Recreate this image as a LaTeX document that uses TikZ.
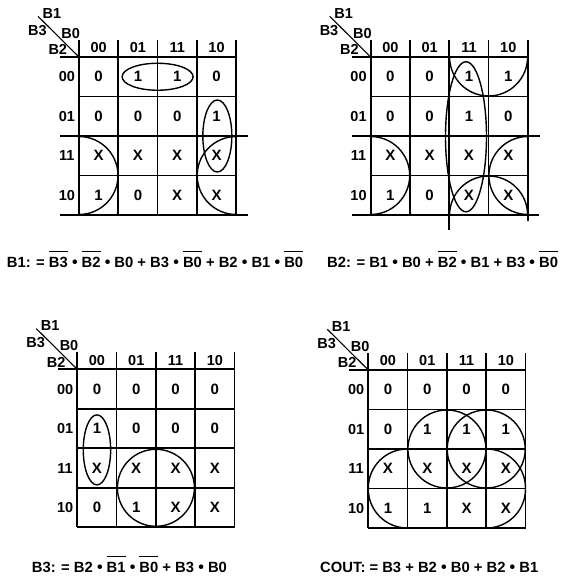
\documentclass[tikz,border=0pt]{standalone}
\usepackage{fontspec}
\setmainfont{Liberation Sans}
\newcommand\ovl[1]{\vbox{\hrule height 1.3pt\kern 4.5pt\hbox{#1}}}
\newcommand\bul{{\fontsize{16}{16}\selectfont\raisebox{-0.4pt}{\textbullet}}}
\tikzset{
  gridline/.style={line width=1.7pt},
  diagline/.style={line width=1.1pt},
  loopline/.style={line width=1.4pt},
  cellval/.style={font=\bfseries\fontsize{15}{17}\selectfont, inner sep=0pt},
  hdr/.style={font=\bfseries\fontsize{14.5}{16}\selectfont, inner sep=0pt},
  eqn/.style={font=\bfseries\fontsize{14.8}{17}\selectfont, inner sep=0pt, anchor=base west},
}
\newcommand\kmap[2]{%
  \draw[gridline] (-0.48,0) -- (4,0);
  \foreach \i in {1,2,3,4} \draw[gridline] (0,-\i) -- (4,-\i);
  \foreach \j in {0,...,4} \draw[gridline] (\j,0.43) -- (\j,-4);
  \coordinate (#1-corner) at (0,0);
  \coordinate (#1-diagend) at (-1.043,1.03);
  \draw[diagline] (#1-corner) -- (#1-diagend);
  \node[hdr] (#1-b1) at (-0.69,1.11) {B1};
  \node[hdr] (#1-b3) at (-1.06,0.68) {B3};
  \node[hdr] (#1-b0) at (-0.21,0.60) {B0};
  \node[hdr] (#1-b2) at (-0.54,0.18) {B2};
  \foreach \lab [count=\k from 0] in {00,01,11,10} {
    \node[hdr] (#1-col\k) at (\k+0.5,0.235) {\lab};
    \node[hdr] (#1-row\k) at (-0.31,-\k-0.5) {\lab};
  }
  \foreach \v [count=\k from 0] in {#2} {
    \pgfmathtruncatemacro\rr{div(\k,4)}
    \pgfmathtruncatemacro\cc{mod(\k,4)}
    \node[cellval] (#1-c\rr\cc) at (\cc+0.5,-\rr-0.5) {\v};
  }
}
\begin{document}
\begin{tikzpicture}[x=1pt,y=1pt]
\useasboundingbox (0,0) rectangle (561,-578);
\fill[white] (0,0) rectangle (561,-578);

% Map 1 : B1
\begin{scope}[shift={(79,-57)}, x=39.3pt, y=39.5pt]
  \kmap{ma}{0,1,1,0, 0,0,0,1, X,X,X,X, 1,0,X,X}
  \draw[gridline] (-0.48,-2) -- (4.3,-2);
  \draw[gridline] (-0.48,-4) -- (4.3,-4);
  \draw[loopline] (2,-0.5) ellipse [x radius=35.5pt, y radius=13.5pt];
  \draw[loopline] (3.52,-2.0) ellipse [x radius=14.5pt, y radius=36pt];
  \draw[loopline] (0,-3) ++(0pt,39pt) arc[start angle=90, end angle=-90, radius=39pt];
  \draw[loopline] (4,-3) ++(0pt,39pt) arc[start angle=90, end angle=270, radius=39pt];
\end{scope}

% Map 2 : B2
\begin{scope}[shift={(370.7,-57)}, x=39.3pt, y=39.5pt]
  \kmap{mb}{0,0,1,1, 0,0,1,0, X,X,X,X, 1,0,X,X}
  \draw[gridline] (-0.48,-2) -- (4.31,-2);
  \draw[gridline] (-0.48,-4) -- (4.28,-4);
  \draw[gridline] (2,-4) -- (2,-4.38);
  \draw[gridline] (4,-4) -- (4,-4.15);
  \draw[loopline] (2.425,-2.02) ellipse [x radius=20.5pt, y radius=75pt];
  \draw[loopline] (3,0) ++(-39pt,0pt) arc[start angle=180, end angle=360, radius=39pt];
  \draw[loopline] (3,-4) ++(-39pt,0pt) arc[start angle=180, end angle=0, radius=39pt];
  \draw[loopline] (0,-3) ++(0pt,39pt) arc[start angle=90, end angle=-90, radius=39pt];
  \draw[loopline] (4,-3) ++(0pt,39pt) arc[start angle=90, end angle=270, radius=39pt];
\end{scope}

% Map 3 : B3
\begin{scope}[shift={(77.3,-369.3)}, x=39.3pt, y=39.5pt]
  \kmap{mc}{0,0,0,0, 1,0,0,0, X,X,X,X, 0,1,X,X}
  \draw[loopline] (0.5,-2.04) ellipse [x radius=13.7pt, y radius=35pt];
  \draw[loopline] (2,-3) circle [radius=38.5pt];
\end{scope}

% Map 4 : COUT
\begin{scope}[shift={(368.3,-370)}, x=39.3pt, y=39.5pt]
  \kmap{md}{0,0,0,0, 0,1,1,1, X,X,X,X, 1,1,X,X}
  \draw[loopline, rounded corners=39pt] (0,-2) rectangle (4,-4);
  \draw[loopline] (2,-2) circle [radius=39pt];
  \draw[loopline] (3,-2) circle [radius=39pt];
\end{scope}

% Equations
\node[eqn] (eqa) at (6.7,-267) {B1: = \ovl{B3} \bul{} \ovl{B2} \bul{} B0 + B3 \bul{} \ovl{B0} + B2 \bul{} B1 \bul{} \ovl{B0}};
\node[eqn] (eqb) at (327,-267) {B2: = B1 \bul{} B0 + \ovl{B2} \bul{} B1 + B3 \bul{} \ovl{B0}};
\node[eqn] (eqc) at (31.7,-572) {B3: = B2 \bul{} \ovl{B1} \bul{} \ovl{B0} + B3 \bul{} B0};
\node[eqn] (eqd) at (320,-572) {COUT: = B3 + B2 \bul{} B0 + B2 \bul{} B1};
\end{tikzpicture}
\end{document}
